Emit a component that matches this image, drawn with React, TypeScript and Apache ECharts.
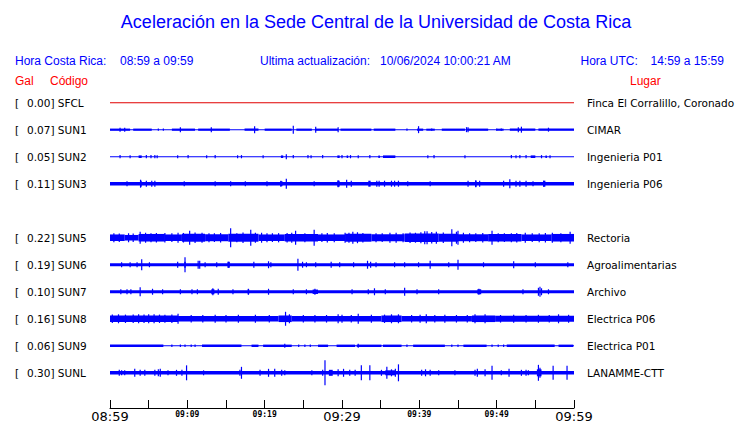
import React, { useEffect, useRef } from "react";
import * as echarts from "echarts";

// ---------- data ----------
const titleText = "Aceleración en la Sede Central de la Universidad de Costa Rica";
const codes = ["SFCL", "SUN1", "SUN2", "SUN3", "SUN5", "SUN6", "SUN7", "SUN8", "SUN9", "SUNL"];
const galValues = [0.0, 0.07, 0.05, 0.11, 0.22, 0.19, 0.1, 0.16, 0.06, 0.3];
const places = [
  "Finca El Corralillo, Coronado",
  "CIMAR",
  "Ingenieria P01",
  "Ingenieria P06",
  "Rectoria",
  "Agroalimentarias",
  "Archivo",
  "Electrica P06",
  "Electrica P01",
  "LANAMME-CTT",
];
const tickLabels = ["08:59", "", "09:09", "", "09:19", "", "09:29", "", "09:39", "", "09:49", "", "09:59"];

// bands: [startMin, endMin, halfAmplitude]; spikes: [min, halfAmplitude]
const sfclBands = [[0, 60, 0.5]];
const sfclSpikes: number[][] = [];

const sun1Bands = [
  [0, 60, 0.5],
  [0, 2.6, 1.1], [3.0, 5.4, 1.1], [8.0, 11.0, 1.1], [11.4, 15.5, 1.1], [17.4, 19.2, 1.1],
  [20.0, 23.5, 1.1], [24.1, 26.1, 1.1], [26.5, 29.5, 1.1], [29.8, 33.8, 1.1], [34.1, 36.9, 1.1],
  [39.7, 40.5, 1.1], [40.9, 42.0, 1.0], [42.9, 45.9, 1.1], [46.2, 48.9, 1.1], [50.0, 50.9, 1.0],
  [51.7, 55.0, 1.1], [55.4, 60, 1.1],
];
const sun1Spikes = [
  [1.3, 2], [1.9, 2], [6.25, 1.2], [6.9, 1.2], [9.1, 2.5], [13.1, 2.5], [18.7, 3.5], [23.7, 4],
  [26.6, 3], [29.5, 2.5], [38.4, 1.2], [39.9, 3.5], [41.6, 1.2], [46.1, 2.5], [46.3, 2.5],
  [50.0, 1.2], [50.6, 1.2], [52.8, 2.5], [53.2, 3], [56.7, 2],
];

const sun2Bands = [
  [0, 60, 0.5],
  [3.7, 4.1, 1.3], [22.1, 22.4, 1.3], [29.4, 29.7, 1.3], [30.6, 30.8, 1.3], [34.7, 34.9, 1.3],
  [35.3, 36.9, 1.3], [54.4, 55.0, 1.3], [56.3, 56.5, 1.3],
];
const sun2Spikes = [
  [1.3, 1.6], [2.6, 1.5], [4.7, 1.6], [5.3, 1.6], [5.8, 1.6], [6.1, 1.5], [8.75, 1.5], [10.1, 1.6],
  [12.5, 1.5], [13.6, 1.6], [16.5, 1.5], [17.0, 1.6], [19.8, 1.5], [22.8, 2.5], [23.7, 1.6],
  [25.6, 1.6], [26.0, 1.5], [27.5, 1.6], [30.0, 1.6], [31.1, 1.6], [32.1, 1.5], [33.6, 1.6],
  [41.1, 1.5], [41.9, 1.6], [45.9, 1.5], [51.9, 1.6], [52.5, 1.5], [53.0, 1.6], [53.8, 1.6],
  [55.8, 1.6], [56.9, 1.5],
];

const sun3Bands = [
  [0, 60, 1.7],
  [3.9, 4.1, 3], [22.0, 22.3, 2.5], [29.4, 29.7, 3], [33.4, 33.7, 3], [47.2, 47.4, 3], [56.0, 56.3, 3],
];
const sun3Spikes = [
  [2.2, 2.5], [3.95, 4], [4.7, 3], [5.4, 3], [5.8, 3], [9.6, 2.5], [13.6, 2.5], [15.6, 2.5],
  [17.5, 2.5], [20.3, 2.5], [22.1, 3], [22.8, 5], [26.4, 2.5], [29.5, 3.5], [30.6, 4], [31.2, 3],
  [34.5, 3], [34.8, 3], [35.5, 3], [36.4, 3], [36.8, 3], [37.3, 3], [38.5, 2.5], [41.4, 2.5],
  [46.3, 3], [47.3, 3.5], [47.8, 3], [50.9, 3], [51.7, 4.5], [52.5, 3], [53.0, 3], [53.8, 3],
  [54.7, 2.5], [56.1, 3],
];

const sun5Bands = [
  [0, 1.9, 3.3], [1.9, 3.7, 2.8], [3.7, 7.1, 3.8], [7.1, 9.3, 3.3], [9.3, 12.3, 4.0], [12.3, 15.3, 3.5],
  [15.3, 19.2, 4.0], [19.2, 22.6, 3.3], [22.6, 26.9, 3.8], [26.9, 30.4, 3.3], [30.4, 33.8, 4.0],
  [33.8, 38.1, 3.5], [38.1, 42.5, 4.2], [42.5, 45.0, 4.0], [45.0, 48.9, 3.5], [48.9, 53.2, 3.8],
  [53.2, 57.1, 3.3], [57.1, 60, 3.8],
];
const sun5Spikes = [
  [0.5, 4.5], [1.2, 4.2], [2.4, 4.5], [3.0, 4.3], [3.9, 6], [4.6, 5], [5.3, 4.6], [6.0, 4.8],
  [7.1, 4.8], [8.0, 4.4], [8.8, 5.0], [9.5, 4.8], [10.3, 7], [11.0, 5.2], [11.9, 5], [12.8, 4.6],
  [13.5, 4.4], [14.3, 4.8], [15.6, 9.5], [16.4, 4.6], [17.2, 5.2], [18.2, 8], [18.8, 5.0],
  [19.6, 5], [20.3, 4.6], [21.0, 4.4], [21.8, 4.6], [22.9, 4.8], [23.5, 5.0], [24.0, 7],
  [25.2, 4.6], [26.4, 8], [27.4, 4.4], [28.1, 4.8], [29.0, 4.6], [30.4, 5], [30.9, 5.0],
  [31.4, 6], [32.0, 5.5], [32.7, 4.8], [34.4, 4.6], [35.2, 4.4], [36.2, 5], [37.0, 5.0],
  [37.9, 4.6], [38.8, 5.2], [39.5, 5.0], [40.2, 5.6], [40.7, 6.5], [41.0, 6.5], [41.6, 5.8],
  [42.2, 6.0], [43.1, 5.2], [44.2, 8.5], [44.8, 6.0], [45.0, 7], [45.7, 5.0], [46.5, 4.6],
  [47.3, 4.4], [48.2, 4.8], [49.4, 7], [50.2, 4.6], [51.0, 4.4], [51.9, 4.6], [52.6, 4.8],
  [53.7, 5], [54.6, 4.4], [55.5, 4.6], [56.3, 4.8], [57.2, 5.0], [58.3, 4.6], [59.5, 6],
];

const sun6Bands = [[0, 60, 1.5], [9.6, 9.8, 3], [15.2, 15.5, 3]];
const sun6Spikes = [
  [1.5, 2.5], [2.6, 2.5], [3.5, 2.5], [4.1, 5.5], [5.1, 2.5], [8.75, 3], [9.7, 7.5], [11.4, 4],
  [11.6, 4], [12.3, 2.5], [13.8, 2.5], [15.3, 3], [18.6, 3], [20.5, 3.5], [20.8, 2.5], [24.3, 6],
  [24.9, 3], [25.4, 2.5], [26.6, 2.5], [28.6, 3], [29.7, 2.5], [31.5, 2.5], [33.3, 4], [33.7, 3],
  [34.4, 2.5], [36.8, 2.5], [38.1, 2.5], [39.9, 2.5], [41.4, 4], [43.8, 2.5], [45.0, 5],
  [48.3, 2.5], [52.2, 3.5], [55.0, 2.5], [59.2, 2.5],
];

const sun7Bands = [[0, 60, 1.5], [13.1, 13.5, 2.5], [17.8, 18.0, 2.5], [26.2, 26.9, 2.2], [47.5, 48.0, 2.5]];
const sun7Spikes = [
  [1.4, 2.5], [2.2, 2.5], [2.7, 2.5], [3.9, 4.5], [5.5, 3], [6.8, 2.5], [9.1, 2.5], [10.6, 2.5],
  [11.3, 2.5], [13.3, 3.5], [14.0, 3], [15.9, 2.5], [17.9, 3], [20.5, 3], [23.7, 2.5], [25.4, 2.5],
  [26.5, 3], [31.3, 2.5], [33.4, 2.5], [34.2, 3.5], [35.6, 2.5], [38.1, 4], [39.7, 2.5], [42.5, 2.5],
  [47.7, 3], [53.4, 2.5], [55.4, 4], [55.6, 5], [55.8, 3.5], [56.7, 2.5],
];

const sun8Bands = [
  [0, 8.8, 3.3], [8.8, 21.8, 2.8], [21.8, 23.5, 3.3], [23.5, 35.1, 2.8], [35.1, 37.7, 3.3],
  [37.7, 46.8, 2.8], [46.8, 49.8, 3.3], [49.8, 60, 3.0],
];
const sun8Spikes = [
  [0.3, 4.2], [1.1, 4.5], [2.0, 4.2], [3.0, 4.2], [3.7, 4.5], [4.4, 4.2], [5.0, 4.5], [5.7, 4.5],
  [6.4, 4.2], [7.1, 4], [8.0, 4.2], [8.8, 5], [10.5, 3.8], [12.0, 3.8], [13.6, 4], [15.0, 3.8],
  [16.6, 4], [18.8, 4], [20.6, 3.8], [22.7, 7], [23.2, 4.5], [25.0, 3.8], [26.5, 3.8], [28.0, 3.8],
  [29.5, 4.5], [30.0, 4], [31.2, 3.8], [32.1, 5], [33.8, 4], [35.5, 4.2], [36.4, 4.5], [37.3, 4.5],
  [39.0, 3.8], [40.1, 4], [40.9, 4.5], [42.0, 3.8], [43.3, 4], [44.8, 3.8], [46.2, 3.8],
  [47.2, 4.5], [48.5, 4.5], [50.5, 3.8], [52.2, 4], [53.8, 3.8], [55.4, 4], [56.8, 3.8], [58.0, 4.5],
  [59.3, 4],
];

const sun9Bands = [
  [0, 60, 0.5],
  [0, 6.9, 1.2], [11.9, 17.0, 1.2], [18.3, 19.2, 1.2], [19.8, 23.5, 1.2], [26.9, 28.2, 1.2],
  [29.3, 31.7, 1.2], [31.9, 35.1, 1.2], [35.3, 37.7, 1.2], [39.2, 43.3, 1.2], [45.7, 48.7, 1.2],
  [51.3, 57.5, 1.2], [58.0, 59.9, 1.2],
];
const sun9Spikes = [
  [8.0, 1.3], [9.1, 1.3], [9.7, 1.3], [10.5, 1.3], [11.0, 1.3], [22.6, 2], [24.4, 1.3], [25.2, 1.3],
  [25.9, 1.3], [32.1, 2], [38.4, 1.3], [44.2, 1.3], [45.0, 1.3], [49.4, 1.3], [50.2, 1.3], [50.9, 1.3],
];

const sunlBands = [[0, 60, 1.7], [28.3, 28.8, 3], [35.6, 36.9, 2.5], [55.2, 55.8, 3.5]];
const sunlSpikes = [
  [1.2, 3], [1.5, 2.5], [1.9, 2.5], [3.2, 4], [3.9, 3], [4.5, 3], [5.8, 3], [6.25, 3.5], [6.5, 4],
  [7.5, 2.5], [8.6, 3], [9.3, 3], [9.9, 7.5], [12.1, 2.5], [16.8, 3], [17.0, 6], [19.4, 3],
  [20.5, 4], [21.3, 4], [22.2, 3], [22.6, 2.5], [26.1, 2.5], [27.5, 3], [27.8, 12.5], [29.5, 3.5],
  [30.2, 4], [31.0, 3], [31.7, 3], [32.5, 7.5], [33.6, 7.5], [35.1, 3], [35.8, 6], [36.4, 3.5],
  [36.9, 4], [37.3, 8.5], [40.3, 3], [40.8, 3.5], [41.4, 3], [42.5, 2.5], [44.6, 2.5], [47.2, 3],
  [47.5, 4], [48.5, 3.5], [49.4, 7], [50.6, 2.5], [51.6, 4], [53.2, 3], [53.8, 3], [54.1, 2.5],
  [55.4, 8], [55.6, 5], [57.3, 7], [59.1, 7],
];

const traceBands = [sfclBands, sun1Bands, sun2Bands, sun3Bands, sun5Bands, sun6Bands, sun7Bands, sun8Bands, sun9Bands, sunlBands];
const traceSpikes = [sfclSpikes, sun1Spikes, sun2Spikes, sun3Spikes, sun5Spikes, sun6Spikes, sun7Spikes, sun8Spikes, sun9Spikes, sunlSpikes];

// ---------- layout ----------
const W = 740;
const H = 423;
const GRID_TOP = 89.5;
const GRID_BOTTOM_Y = 409;
const ROW_GAP = 27.1;
const FIRST_ROW = 13.2;
const BLUE = "#0000ff";
const RED = "#ff0000";
const SFCL_RED = "#e00000";
const TEXT_FONT = "10.5px 'DejaVu Sans'";
const HEAD_FONT = "12px 'Liberation Sans', Arial, sans-serif";

const slotOf = (i: number) => (i < 4 ? i : i + 1);
const centerOf = (i: number) => FIRST_ROW + ROW_GAP * slotOf(i);

export default function App() {
  const ref = useRef<HTMLDivElement>(null);

  useEffect(() => {
    document.body.style.margin = "0";
    if (!ref.current) return;
    const chart = echarts.init(ref.current, null, { renderer: "svg" });

    const traceSeries = codes.map((code, idx) => {
      const color = idx === 0 ? SFCL_RED : BLUE;
      const data = traceBands[idx].concat(traceSpikes[idx].map(([t, a]) => [t, t, a]));
      return {
        type: "custom",
        name: code,
        coordinateSystem: "cartesian2d",
        clip: false,
        silent: true,
        data,
        encode: { x: [0, 1], y: 2 },
        renderItem: (_params: any, api: any) => {
          const t0 = api.value(0);
          const t1 = api.value(1);
          const a = api.value(2);
          const c = centerOf(idx);
          const p0 = api.coord([t0, c - a]);
          const p1 = api.coord([t1, c + a]);
          let x = p0[0];
          let w = p1[0] - p0[0];
          if (w < 1.2) {
            x = x - 0.6;
            w = 1.2;
          }
          const y = Math.min(p0[1], p1[1]);
          const h = Math.max(1, Math.abs(p1[1] - p0[1]));
          return { type: "rect", shape: { x, y, width: w, height: h }, style: { fill: color } };
        },
      };
    });

    const labelSeries = {
      type: "custom",
      name: "labels",
      coordinateSystem: "cartesian2d",
      clip: false,
      silent: true,
      data: codes.map((_c, i) => [0, i]),
      encode: { x: 0, y: 1 },
      renderItem: (_params: any, api: any) => {
        const i = api.value(1);
        const y = api.coord([0, centerOf(i)])[1] + 0.5;
        return {
          type: "group",
          children: [
            { type: "text", x: 15, y, style: { text: "[", fill: "#000", font: TEXT_FONT, verticalAlign: "middle", align: "left" } },
            {
              type: "text",
              x: 27,
              y,
              style: { text: `${galValues[i].toFixed(2)}] ${codes[i]}`, fill: "#000", font: TEXT_FONT, verticalAlign: "middle", align: "left" },
            },
            { type: "text", x: 587, y, style: { text: places[i], fill: "#000", font: TEXT_FONT, verticalAlign: "middle", align: "left" } },
          ],
        };
      },
    };

    const headText = (text: string, x: number, y: number, fill: string) => ({
      type: "text",
      x,
      y,
      style: { text, fill, font: HEAD_FONT, verticalAlign: "middle", align: "left" },
    });

    chart.setOption({
      animation: false,
      backgroundColor: "#ffffff",
      grid: { left: 110, right: W - 574, top: GRID_TOP, bottom: H - GRID_BOTTOM_Y, containLabel: false },
      xAxis: {
        type: "value",
        position: "bottom",
        min: 0,
        max: 60,
        interval: 5,
        splitLine: { show: false },
        axisLine: { show: true, onZero: false, lineStyle: { color: "#000", width: 1 } },
        axisTick: { show: true, inside: true, length: 8, lineStyle: { color: "#000", width: 1 } },
        axisLabel: {
          show: true,
          margin: 1,
          showMinLabel: true,
          showMaxLabel: true,
          formatter: (v: number) => {
            const k = Math.round(v / 5);
            const s = tickLabels[k] || "";
            if (!s) return "";
            return k % 6 === 0 ? `{big|${s}}` : `{small|${s}}`;
          },
          rich: {
            big: { fontSize: 13, fontFamily: "DejaVu Sans", color: "#000", lineHeight: 15 },
            small: { fontSize: 8, fontFamily: "DejaVu Sans Mono", fontWeight: "bold", color: "#000", lineHeight: 11 },
          },
        },
      },
      yAxis: {
        type: "value",
        min: 0,
        max: GRID_BOTTOM_Y - GRID_TOP,
        inverse: true,
        show: false,
        splitLine: { show: false },
      },
      graphic: [
        {
          type: "text",
          x: 376,
          y: 22,
          style: {
            text: titleText,
            fill: BLUE,
            font: "18px 'Liberation Sans', Arial, sans-serif",
            align: "center",
            verticalAlign: "middle",
          },
        },
        headText("Hora Costa Rica:", 15, 60.5, BLUE),
        headText("08:59 a 09:59", 120, 60.5, BLUE),
        headText("Ultima actualización:", 260, 60.5, BLUE),
        headText("10/06/2024 10:00:21 AM", 380, 60.5, BLUE),
        headText("Hora UTC:", 580.5, 60.5, BLUE),
        headText("14:59 a 15:59", 650.5, 60.5, BLUE),
        headText("Gal", 15, 81, RED),
        headText("Código", 50, 81, RED),
        headText("Lugar", 630, 81, RED),
      ],
      series: [...traceSeries, labelSeries],
    });

    return () => chart.dispose();
  }, []);

  return <div ref={ref} style={{ width: W, height: H }} />;
}
